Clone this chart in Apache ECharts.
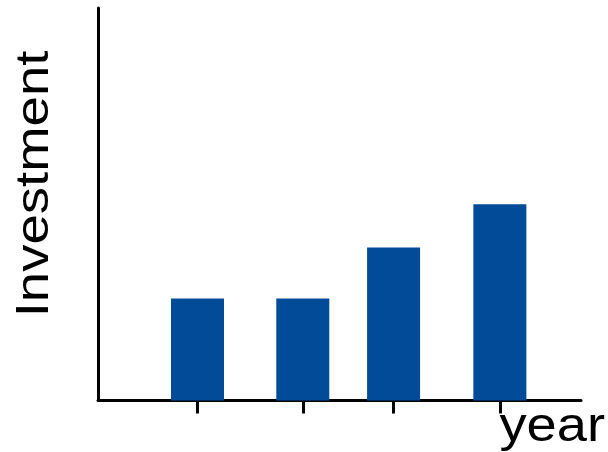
<!DOCTYPE html>
<html>
<head>
<meta charset="utf-8">
<script src="https://cdn.jsdelivr.net/npm/echarts@6/dist/echarts.min.js"></script>
<style>html,body{margin:0;padding:0;background:#fff}#c{width:608px;height:452px}</style>
</head>
<body>
<div id="c"></div>
<script>
// data
var years = [1.03, 2.12, 3.06, 4.16];      // x positions (year index)
var investment = [2.6, 2.6, 3.9, 5.0];     // bar heights
var xName = 'year';
var yName = 'Investment';

var chart = echarts.init(document.getElementById('c'), null, {renderer: 'canvas'});
var pairs = years.map(function (x, i) { return [x, investment[i]]; });
chart.setOption({
  animation: false,
  grid: {left: 98, right: 27, top: 8, bottom: 51.5},
  xAxis: {
    type: 'value', min: 0, max: 5,
    axisLine: {show: true, lineStyle: {color: '#000', width: 3}},
    axisTick: {show: true, customValues: years, length: 13, inside: false, lineStyle: {color: '#000', width: 3}},
    axisLabel: {show: false},
    splitLine: {show: false}
  },
  yAxis: {
    type: 'value', min: 0, max: 10,
    axisLine: {show: true, lineStyle: {color: '#000', width: 3}},
    axisTick: {show: false},
    axisLabel: {show: false},
    splitLine: {show: false}
  },
  series: [{
    type: 'bar',
    data: pairs,
    barWidth: 53,
    itemStyle: {color: '#024b98'}
  }],
  graphic: [
    {
      type: 'text', x: 12, y: 317.3, rotation: Math.PI / 2, scaleX: 1.16, scaleY: 1,
      style: {text: yName, font: '47px "Liberation Sans", Arial, sans-serif', fill: '#000', textAlign: 'left', textVerticalAlign: 'top'}
    },
    {
      type: 'text', x: 499.5, y: 403.4, scaleX: 1.13, scaleY: 1,
      style: {text: xName, font: '48px "Liberation Sans", Arial, sans-serif', fill: '#000', textAlign: 'left', textVerticalAlign: 'top'}
    }
  ]
});
</script>
</body>
</html>
